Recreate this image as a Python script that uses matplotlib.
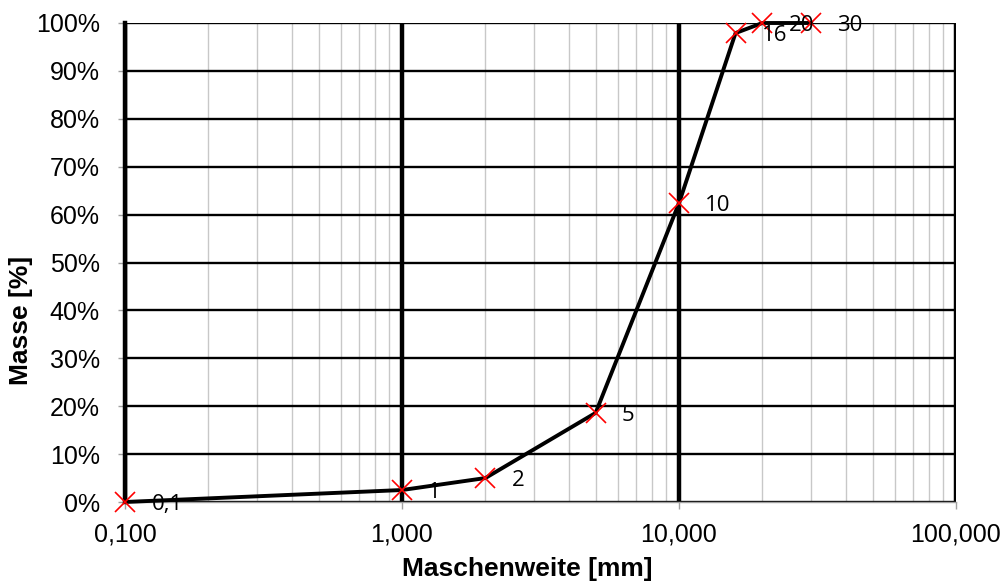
import matplotlib.pyplot as plt
from matplotlib.ticker import FixedLocator, FuncFormatter, LogLocator, NullFormatter

plt.rcParams["font.family"] = ["Liberation Sans", "DejaVu Sans"]

sizes = [0.1, 1, 2, 5, 10, 16, 20, 30]
masse = [0.0, 2.5, 5.0, 18.6, 62.4, 97.9, 100.0, 100.0]
point_labels = ["0,1", "1", "2", "5", "10", "16", "20", "30"]
y_ticks = [0, 10, 20, 30, 40, 50, 60, 70, 80, 90, 100]
x_ticks = [0.1, 1, 10, 100]

fig = plt.figure(figsize=(10.08, 5.85), dpi=100)
ax = fig.add_axes([125 / 1008, 1 - 502 / 585, 831 / 1008, 479 / 585])

ax.set_xscale("log")
ax.set_xlim(0.1, 100)
ax.set_ylim(0, 100)

# grid: thick black decades, thin grey minors, black horizontals
ax.xaxis.set_major_locator(FixedLocator(x_ticks))
ax.xaxis.set_minor_locator(LogLocator(base=10, subs=range(2, 10)))
ax.xaxis.set_minor_formatter(NullFormatter())
ax.xaxis.set_major_formatter(FuncFormatter(lambda v, p: f"{v:.3f}".replace(".", ",")))
ax.yaxis.set_major_locator(FixedLocator(y_ticks))
ax.yaxis.set_major_formatter(FuncFormatter(lambda v, p: f"{v:.0f}%"))

ax.grid(which="minor", axis="x", color="#c8c8c8", linewidth=1.0)
ax.grid(which="major", axis="x", color="black", linewidth=3.2)
ax.grid(which="major", axis="y", color="black", linewidth=1.7)
ax.set_axisbelow(True)

for side in ["top", "right"]:
    ax.spines[side].set_visible(False)
ax.spines["left"].set_color("black")
ax.spines["left"].set_linewidth(3.2)
ax.spines["bottom"].set_color("#a0a0a0")
ax.spines["bottom"].set_linewidth(1.0)

ax.tick_params(axis="both", which="major", direction="out", length=5, color="#a0a0a0",
               labelsize=18, width=1)
ax.tick_params(axis="x", which="minor", length=0)
ax.tick_params(axis="x", pad=10)
ax.tick_params(axis="y", pad=13)

ax.plot(sizes, masse, color="black", linewidth=2.8, zorder=3, clip_on=False)
ax.plot(sizes, masse, linestyle="none", marker="x", markersize=14, markeredgewidth=1.2,
        color="red", zorder=4, clip_on=False)

for x, y, lab in zip(sizes, masse, point_labels):
    ax.annotate(lab, (x, y), xytext=(19, -2), textcoords="offset points",
                fontsize=16, family=["Open Sans", "DejaVu Sans"],
                ha="left", va="center", zorder=5, annotation_clip=False)

ax.set_xlabel("Maschenweite [mm]", fontsize=19, fontweight="bold")
ax.set_ylabel("Masse [%]", fontsize=19, fontweight="bold")
ax.xaxis.set_label_coords(0.484, -0.115)
ax.yaxis.set_label_coords(-0.111, 0.38)

fig.savefig("out.png", dpi=100)
